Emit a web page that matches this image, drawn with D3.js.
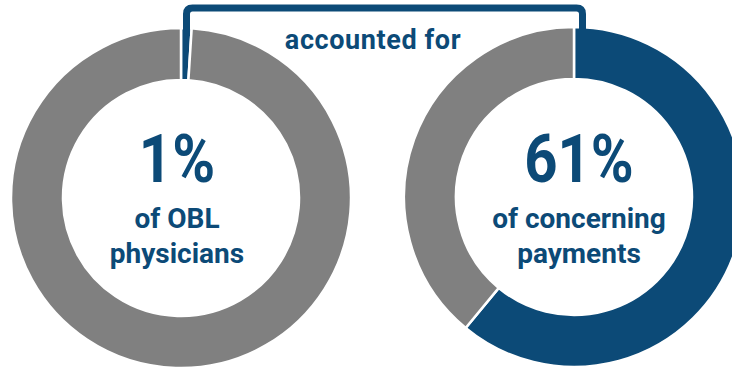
<!DOCTYPE html>
<html>
<head>
<meta charset="utf-8">
<script src="https://cdn.jsdelivr.net/npm/d3@7"></script>
<style>
  body { margin: 0; background: #fff; }
  text { font-family: Roboto, "Liberation Sans", sans-serif; font-weight: bold; fill: #0c4a77; }
</style>
</head>
<body>
<div id="chart"></div>
<script>
const width = 732;
const height = 371;

// share of each group (percent), highlighted slice first
const groups = ["OBL physicians", "concerning payments"];
const shares = [1, 61];
const bigLabels = ["1%", "61%"];
const subLabels = [["of OBL", "physicians"], ["of concerning", "payments"]];
const bracketLabel = "accounted for";

const blue = "#0c4a77";
const grey = "#808080";

const centers = [{x: 181, y: 198}, {x: 574, y: 197}];
const textX = [177, 579];
const outerR = 170;
const innerR = 118;

const svg = d3.select("#chart")
  .append("svg")
  .attr("width", width)
  .attr("height", height);

const pie = d3.pie().sort(null).value(d => d);
const arc = d3.arc().innerRadius(innerR).outerRadius(outerR);

groups.forEach((g, i) => {
  const c = centers[i];
  const slices = pie([shares[i], 100 - shares[i]]);

  const gg = svg.append("g")
    .attr("transform", `translate(${c.x},${c.y})`);

  gg.selectAll("path")
    .data(slices)
    .join("path")
    .attr("d", arc)
    .attr("fill", (d, j) => j === 0 ? blue : grey)
    .attr("stroke", "#fff")
    .attr("stroke-width", 2.5);
});

// bracket joining the two highlighted slices
const bx1 = centers[0].x + 5.5;
const bx2 = centers[1].x + 8.5;
const by = 8;
const r = 6;
svg.append("path")
  .attr("d", `M${bx1},${centers[0].y - outerR + 6} V${by + r} Q${bx1},${by} ${bx1 + r},${by} H${bx2 - r} Q${bx2},${by} ${bx2},${by + r} V${centers[1].y - outerR + 4}`)
  .attr("fill", "none")
  .attr("stroke", blue)
  .attr("stroke-width", 7);

// condensed look: squeeze text horizontally around its anchor
function condense(sel, k) {
  sel.each(function() {
    const t = d3.select(this);
    const x = +t.attr("x");
    t.attr("transform", `translate(${x},0) scale(${k},1) translate(${-x},0)`);
  });
}

svg.append("text")
  .attr("x", 373)
  .attr("y", 49)
  .attr("text-anchor", "middle")
  .attr("font-size", 27)
  .attr("letter-spacing", 0.6)
  .text(bracketLabel);

groups.forEach((g, i) => {
  svg.append("text")
    .attr("x", textX[i])
    .attr("y", 182)
    .attr("text-anchor", "middle")
    .attr("font-size", 66)
    .text(bigLabels[i])
    .call(condense, 0.88);

  subLabels[i].forEach((line, k) => {
    svg.append("text")
      .attr("x", textX[i])
      .attr("y", 228 + k * 35)
      .attr("text-anchor", "middle")
      .attr("font-size", 28)
      .text(line);
  });
});
</script>
</body>
</html>
